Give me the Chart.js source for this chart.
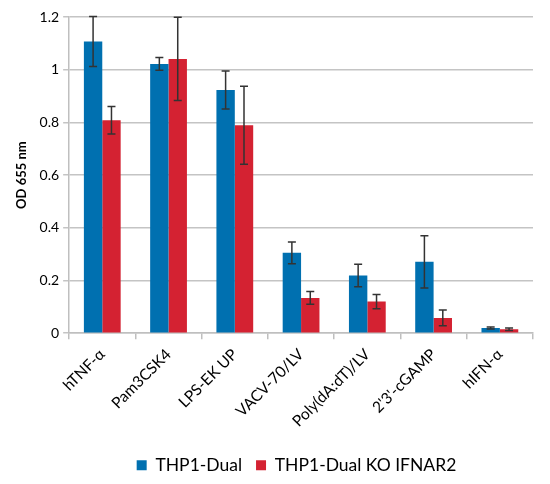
<!DOCTYPE html>
<html><head><meta charset="utf-8">
<script src="https://cdn.jsdelivr.net/npm/chart.js@4"></script>
<style>html,body{margin:0;padding:0;background:#fff}#wrap{width:550px;height:484px}</style>
</head><body><div id="wrap"><canvas id="c" width="550" height="484"></canvas></div>
<script>
const categories = ["hTNF-\u03b1","Pam3CSK4","LPS-EK UP","VACV-70/LV","Poly(dA:dT)/LV","2'3'-cGAMP","hIFN-\u03b1"];
const dualValues = [1.107, 1.022, 0.923, 0.305, 0.219, 0.271, 0.020];
const dualErrors = [0.095, 0.024, 0.072, 0.041, 0.043, 0.099, 0.004];
const koValues   = [0.808, 1.041, 0.789, 0.134, 0.120, 0.058, 0.015];
const koErrors   = [0.052, 0.158, 0.148, 0.024, 0.027, 0.030, 0.005];
const yTicks = [0, 0.2, 0.4, 0.6, 0.8, 1, 1.2];

const errorBars = {
  id: 'errorBars',
  afterDatasetsDraw(chart) {
    const ctx = chart.ctx, ys = chart.scales.y;
    chart.data.datasets.forEach((ds, i) => {
      const meta = chart.getDatasetMeta(i);
      meta.data.forEach((bar, j) => {
        const v = ds.data[j], e = ds.errors[j];
        const yt = ys.getPixelForValue(v + e), yb = ys.getPixelForValue(v - e);
        ctx.save();
        ctx.strokeStyle = '#333333';
        ctx.lineWidth = 1.5;
        ctx.beginPath();
        ctx.moveTo(bar.x, yt); ctx.lineTo(bar.x, yb);
        ctx.moveTo(bar.x - 4, yt); ctx.lineTo(bar.x + 4, yt);
        ctx.moveTo(bar.x - 4, yb); ctx.lineTo(bar.x + 4, yb);
        ctx.stroke();
        ctx.restore();
      });
    });
  }
};

const legendShift = {
  id: 'legendShift',
  afterLayout(chart) {
    const lg = chart.legend;
    if (lg) { lg.left += 50; }
  }
};

new Chart(document.getElementById('c'), {
  type: 'bar',
  data: {
    labels: categories,
    datasets: [
      {label: 'THP1-Dual', data: dualValues, errors: dualErrors, backgroundColor: '#0070b0', borderWidth:0},
      {label: 'THP1-Dual KO IFNAR2', data: koValues, errors: koErrors, backgroundColor: '#d42232', borderWidth:0}
    ]
  },
  options: {
    responsive: false,
    animation: false,
    layout: {padding: {left: 10, right: 17, top: 17, bottom: 0}},
    datasets: {bar: {categoryPercentage: 0.555, barPercentage: 1.0}},
    plugins: {
      legend: {
        position: 'bottom',
        labels: {font: {family: 'Lato', size: 17.5}, color: '#000', boxWidth: 10, boxHeight: 10, padding: 14}
      },
      tooltip: {enabled: false}
    },
    scales: {
      x: {
        afterFit(axis) { axis.height += 6; },
        grid: {display: true, drawOnChartArea: false, offset: true, color: '#bfbfbf', tickLength: 6, lineWidth: 1.5},
        border: {color: '#bfbfbf', width: 1.5},
        ticks: {font: {family: 'Lato', size: 15.5}, color: '#000', minRotation: 45, maxRotation: 45, padding: 6}
      },
      y: {
        min: 0, max: 1.2,
        afterBuildTicks(axis) { axis.ticks = yTicks.map(v => ({value: v})); },
        grid: {color: '#c4c4c4', lineWidth: 1.5, tickLength: 6},
        border: {color: '#bfbfbf', width: 1.5},
        ticks: {font: {family: 'Lato', size: 14}, color: '#000', padding: 4, callback: v => String(+v.toFixed(1))},
        title: {display: true, text: 'OD 655 nm', font: {family: 'Lato', size: 13, weight: 'bold'}, color: '#000', padding: {bottom: 6}}
      }
    }
  },
  plugins: [errorBars, legendShift]
});
</script></body></html>
